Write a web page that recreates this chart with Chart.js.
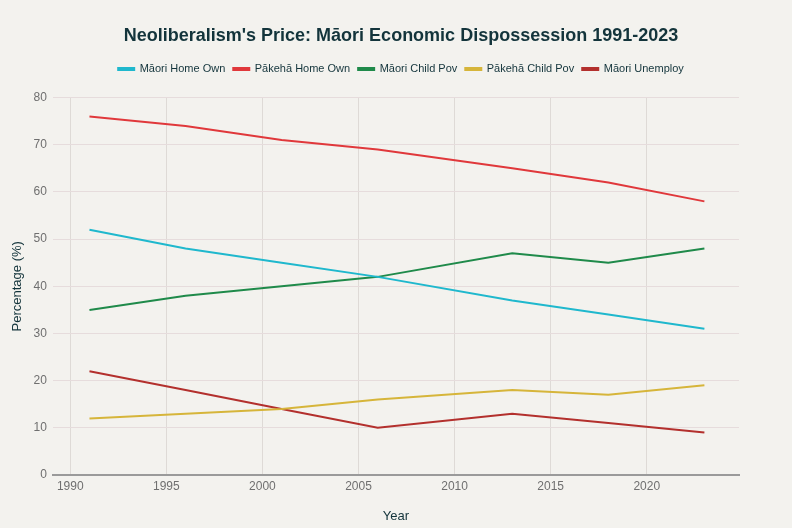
<!DOCTYPE html>
<html>
<head>
<meta charset="utf-8">
<script src="https://cdn.jsdelivr.net/npm/chart.js@4"></script>
<style>
  html, body { margin: 0; padding: 0; background: #f3f2ee; }
  #wrap { width: 792px; height: 528px; }
</style>
</head>
<body>
<div id="wrap"><canvas id="myChart"></canvas></div>
<script>
const years = [1991, 1996, 2001, 2006, 2013, 2018, 2023];
const xTicks = [1990, 1995, 2000, 2005, 2010, 2015, 2020];
const maoriHomeOwn = [52, 48, 45, 42, 37, 34, 31];
const pakehaHomeOwn = [76, 74, 71, 69, 65, 62, 58];
const maoriChildPov = [35, 38, 40, 42, 47, 45, 48];
const pakehaChildPov = [12, 13, 14, 16, 18, 17, 19];
const maoriUnemploy = [22, 18, 14, 10, 13, 11, 9];

const toPoints = (vals) => years.map((y, i) => ({ x: y, y: vals[i] }));

const series = [
  { label: 'Māori Home Own', data: maoriHomeOwn, color: '#1fb8cd' },
  { label: 'Pākehā Home Own', data: pakehaHomeOwn, color: '#e0383b' },
  { label: 'Māori Child Pov', data: maoriChildPov, color: '#1f8a4a' },
  { label: 'Pākehā Child Pov', data: pakehaChildPov, color: '#d6b53a' },
  { label: 'Māori Unemploy', data: maoriUnemploy, color: '#b3302d' }
];

const FONT = 'Arial, "Liberation Sans", sans-serif';

// extra gap under the legend
const legendGap = {
  id: 'legendGap',
  beforeInit(chart) {
    const fit = chart.legend.fit;
    chart.legend.fit = function () {
      fit.bind(chart.legend)();
      this.height += 13;
    };
  }
};

window.addEventListener('load', () => {
  const ctx = document.getElementById('myChart');
  new Chart(ctx, {
    type: 'line',
    plugins: [legendGap],
    data: {
      datasets: series.map(s => ({
        label: s.label,
        data: toPoints(s.data),
        borderColor: s.color,
        backgroundColor: s.color,
        borderWidth: 2,
        pointRadius: 0,
        tension: 0
      }))
    },
    options: {
      responsive: true,
      maintainAspectRatio: false,
      animation: false,
      layout: { padding: { left: 10, right: 0, top: 15, bottom: 4 } },
      plugins: {
        title: {
          display: true,
          text: "Neoliberalism's Price: Māori Economic Dispossession 1991-2023",
          color: '#13343b',
          font: { family: FONT, size: 18, weight: 'bold' },
          padding: { top: 10, bottom: 9 }
        },
        legend: {
          display: true,
          labels: {
            color: '#13343b',
            font: { family: FONT, size: 11 },
            boxWidth: 16,
            boxHeight: 2,
            padding: 8
          }
        },
        tooltip: { enabled: false }
      },
      scales: {
        x: {
          type: 'linear',
          min: 1989.1,
          max: 2024.8,
          ticks: {
            color: '#6f6f6f',
            padding: 4,
            font: { family: FONT, size: 12 },
            callback: (v) => String(v)
          },
          afterBuildTicks: (axis) => {
            axis.ticks = xTicks.map(v => ({ value: v }));
          },
          grid: { color: '#dedad6', drawTicks: false },
          border: { display: true, color: '#9a9a9a', width: 2 },
          title: {
            display: true,
            text: 'Year',
            color: '#13343b',
            font: { family: FONT, size: 13 },
            padding: { top: 11, bottom: 0 }
          }
        },
        y: {
          min: 0,
          max: 80,
          ticks: {
            stepSize: 10,
            color: '#6f6f6f',
            padding: 6,
            font: { family: FONT, size: 12 }
          },
          grid: { color: '#e6dcdc', drawTicks: false },
          border: { display: false },
          title: {
            display: true,
            text: 'Percentage (%)',
            color: '#13343b',
            font: { family: FONT, size: 13 },
            padding: { top: 0, bottom: 2 }
          }
        },
        yRight: {
          position: 'right',
          display: true,
          min: 0,
          max: 80,
          grid: { display: false },
          border: { display: false },
          ticks: { display: false },
          afterFit: (scale) => { scale.width = 53; }
        }
      }
    }
  });
});
</script>
</body>
</html>
